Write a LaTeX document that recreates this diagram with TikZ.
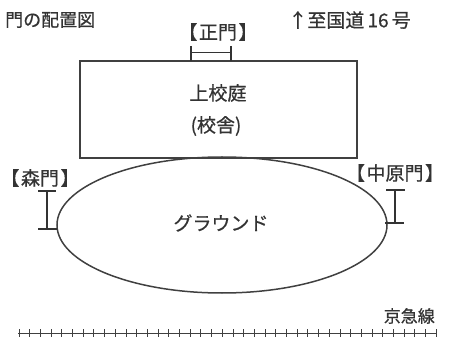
\documentclass[tikz,border=0pt]{standalone}
\usepackage{fontspec}
\newfontfamily\jp[FakeBold=0.6]{Noto Sans CJK JP}
\newcommand\lbk{【\kern0.08em}
\newcommand\rbk{\kern0.08em】}
\tikzset{
  lbl/.style={font=\jp\fontsize{19}{21}\selectfont, inner sep=0pt, text=black!80},
  brk/.style={font=\jp\fontsize{19}{21}\selectfont, inner sep=0pt, text=black!80},
  ln/.style={draw=black!75, line width=1.5pt},
  gate/.style={draw=black!80, line width=1.3pt},
}
\begin{document}
\begin{tikzpicture}[x=1pt,y=-1pt]
\useasboundingbox (0,0) rectangle (449,344);
% titles
\node[lbl, anchor=west, font=\jp\fontsize{18}{20}\selectfont] (title) at (5,20) {門の配置図};
\node[lbl, anchor=east] (road) at (411,20) {↑至国道\,16\,号};
% building
\draw[ln] (80,61) rectangle (357,158);
\node[lbl] (school) at (218,93) {上校庭};
\node[lbl] (shade) at (216,126) {(校舎)};
% main gate
\node[brk] (seimon) at (218,32) {\lbk 正門\rbk};
\draw[gate] (191,46) -- (191,61);
\draw[gate] (231,46) -- (231,61);
\draw[gate, line width=0.8pt] (191,52) -- (231,52);
% ground
\draw[ln] (222,225) ellipse [x radius=165, y radius=68];
\node[lbl] (ground) at (221,223) {グラウンド};
% mori gate
\node[brk] (mori) at (40,178) {\lbk 森門\rbk};
\draw[gate] (47,191) -- (47,229);
\draw[gate] (38,191) -- (56,191);
\draw[gate] (38,229) -- (57,229);
% nakahara gate
\node[brk] (naka) at (395,173) {\lbk 中原門\rbk};
\draw[gate] (395,190) -- (395,223);
\draw[gate] (386,190) -- (405,190);
\draw[gate] (385,223) -- (404,223);
% railway
\node[lbl, anchor=east, font=\jp\fontsize{17}{19}\selectfont] (keikyu) at (435,316) {京急線};
\draw[draw=black!75, line width=1pt] (18,333) -- (437,333);
\foreach \i in {0,...,39} {
  \draw[draw=black!75, line width=0.9pt] ({19+\i*10.7},329) -- ({19+\i*10.7},337);
}
\end{tikzpicture}
\end{document}
